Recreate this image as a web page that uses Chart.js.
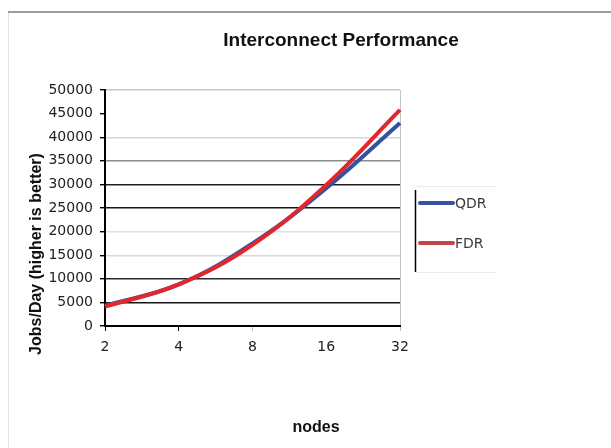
<!DOCTYPE html>
<html>
<head>
<meta charset="utf-8">
<script src="https://cdn.jsdelivr.net/npm/chart.js@4.4.1/dist/chart.umd.min.js"></script>
<style>
  html, body { margin: 0; padding: 0; background: #fff; }
  #wrap { width: 611px; height: 448px; position: relative; }
</style>
</head>
<body>
<div id="wrap"><canvas id="perf" width="611" height="448"></canvas></div>
<script>
// Node counts along the x axis
const nodes = ['2', '4', '8', '16', '32'];
// Throughput in jobs per day for each interconnect
const qdrJobs = [4300, 8800, 17500, 29200, 43000];
const fdrJobs = [4100, 8800, 17200, 29900, 45800];
// Series names
const seriesNames = ['QDR', 'FDR'];
// Text
const chartTitle = 'Interconnect Performance';
const xAxisTitle = 'nodes';
const yAxisTitle = 'Jobs/Day (higher is better)';

// Styling
const seriesColors = ['#3452a0', '#e3262b'];
const legendColors = ['#3452a0', '#c4444a'];
const yGridShades = ['#000', '#161616', '#2a2a2a', '#dadada', '#e2e2e2', '#161616', '#1e1e1e', '#8c8c8c', '#d6d6d6', 'rgba(0,0,0,0)', '#c4c4c4'];
const xGridShades = ['rgba(0,0,0,0)', 'rgba(0,0,0,0)', 'rgba(0,0,0,0)', 'rgba(0,0,0,0)', '#c4c4c4'];
const xTickShades = ['#000', '#000', '#bdbdbd', 'rgba(0,0,0,0)', '#bdbdbd'];
const sansFont = '"Liberation Sans", Arial, sans-serif';
const tickFont = '"DejaVu Sans", Verdana, sans-serif';

// Frame, titles and legend drawn around the plot
const decorations = {
  id: 'decorations',
  beforeDraw(chart) {
    const ctx = chart.ctx;
    ctx.save();
    ctx.fillStyle = '#fff';
    ctx.fillRect(0, 0, chart.width, chart.height);
    ctx.strokeStyle = '#e2e2e2';
    ctx.lineWidth = 1;
    ctx.beginPath();
    ctx.moveTo(8.5, 11);
    ctx.lineTo(8.5, chart.height);
    ctx.stroke();
    ctx.strokeStyle = '#9c9c9c';
    ctx.lineWidth = 2;
    ctx.beginPath();
    ctx.moveTo(8, 12);
    ctx.lineTo(chart.width, 12);
    ctx.stroke();
    ctx.restore();
  },
  afterDraw(chart) {
    const ctx = chart.ctx;
    ctx.save();
    ctx.fillStyle = '#111';
    ctx.textAlign = 'center';
    ctx.textBaseline = 'middle';
    ctx.font = 'bold 19px ' + sansFont;
    ctx.fillText(chartTitle, 341, 41);
    ctx.font = 'bold 16px ' + sansFont;
    ctx.fillText(xAxisTitle, 316, 428);
    ctx.save();
    ctx.translate(37, 254);
    ctx.rotate(-Math.PI / 2);
    ctx.fillText(yAxisTitle, 0, 0);
    ctx.restore();

    // legend box
    ctx.strokeStyle = '#ececec';
    ctx.lineWidth = 1;
    ctx.beginPath();
    ctx.moveTo(416, 186.5); ctx.lineTo(496, 186.5);
    ctx.moveTo(416, 272.5); ctx.lineTo(496, 272.5);
    ctx.stroke();
    ctx.strokeStyle = '#000';
    ctx.lineWidth = 1.5;
    ctx.beginPath();
    ctx.moveTo(415.5, 190); ctx.lineTo(415.5, 272);
    ctx.stroke();
    ctx.textAlign = 'left';
    ctx.font = '14px ' + tickFont;
    chart.data.datasets.forEach((ds, i) => {
      const y = 203 + i * 40;
      ctx.strokeStyle = legendColors[i];
      ctx.lineWidth = 4;
      ctx.lineCap = 'round';
      ctx.beginPath();
      ctx.moveTo(420, y); ctx.lineTo(453, y);
      ctx.stroke();
      ctx.fillStyle = '#3a3a3a';
      ctx.fillText(ds.label, 455, y + 1);
    });
    ctx.restore();
  }
};

new Chart(document.getElementById('perf'), {
  type: 'line',
  data: {
    labels: nodes,
    datasets: [
      { label: seriesNames[0], data: qdrJobs, borderColor: seriesColors[0], backgroundColor: seriesColors[0],
        borderWidth: 4, pointRadius: 0, tension: 0.4, fill: false, order: 1, clip: false },
      { label: seriesNames[1], data: fdrJobs, borderColor: seriesColors[1], backgroundColor: seriesColors[1],
        borderWidth: 4, pointRadius: 0, tension: 0.4, fill: false, order: 0, clip: false }
    ]
  },
  options: {
    responsive: false,
    animation: false,
    devicePixelRatio: 1,
    layout: { padding: { top: 90, right: 211, left: 0, bottom: 0 } },
    plugins: { legend: { display: false }, title: { display: false }, tooltip: { enabled: false } },
    scales: {
      x: {
        type: 'category',
        offset: false,
        afterFit(scale) { scale.height = 122; },
        border: { color: '#000', width: 2 },
        grid: {
          color: (c) => xGridShades[c.index] || 'rgba(0,0,0,0)',
          tickColor: (c) => xTickShades[c.index] || 'rgba(0,0,0,0)',
          tickLength: 5,
          lineWidth: 1
        },
        ticks: { font: { family: tickFont, size: 14 }, color: '#222', padding: 8, maxRotation: 0 }
      },
      y: {
        min: 0,
        max: 50000,
        afterFit(scale) { scale.width = 105; },
        border: { color: '#000', width: 2 },
        grid: {
          color: (c) => yGridShades[c.index] || 'rgba(0,0,0,0)',
          tickColor: '#000',
          tickLength: 5,
          lineWidth: 1.4
        },
        ticks: {
          stepSize: 5000,
          font: { family: tickFont, size: 14 },
          color: '#222',
          padding: 7,
          callback: (v) => String(v)
        }
      }
    }
  },
  plugins: [decorations]
});
</script>
</body>
</html>
